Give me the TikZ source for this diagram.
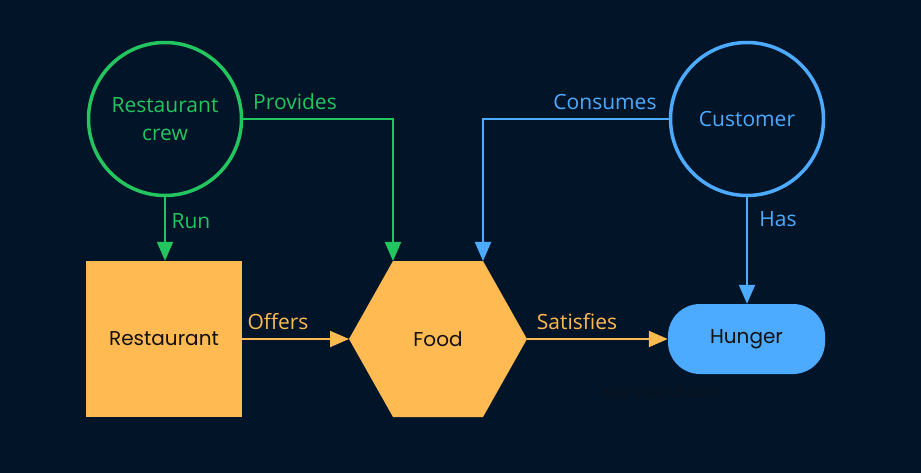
\documentclass[tikz,border=0pt]{standalone}
\usepackage{fontspec}
\setmainfont{Open Sans}
\newfontfamily\nodefont{Poppins}
\usetikzlibrary{arrows.meta,shapes.geometric}
\definecolor{bg}{RGB}{1,20,40}
\definecolor{crewgreen}{RGB}{34,197,94}
\definecolor{custblue}{RGB}{77,171,255}
\definecolor{foodorange}{RGB}{255,186,82}
\definecolor{inktext}{RGB}{17,17,17}
\definecolor{wmark}{RGB}{10,17,28}
\tikzset{
  x=1pt,y=-1pt,
  actor/.style={circle,draw=#1,line width=3.5pt,minimum size=153pt,inner sep=0pt,text=#1,font=\fontsize{21}{28}\selectfont,align=center},
  thing/.style={fill=foodorange,draw=none,text=inktext,font=\nodefont\fontsize{20}{24}\selectfont},
  conn/.style={draw=#1,line width=2pt,-{Triangle[length=19pt,width=16pt]}},
  lbl/.style={text=#1,font=\fontsize{21}{26}\selectfont,inner sep=0pt}
}
\begin{document}
\begin{tikzpicture}
\fill[bg] (0,0) rectangle (921,473);
\useasboundingbox (0,0) rectangle (921,473);
% nodes
\node[actor=crewgreen] (crew) at (165,119) {Restaurant\\crew};
\node[actor=custblue] (cust) at (747,119) {Customer};
\node[thing,minimum width=156pt,minimum height=156pt,inner sep=0pt] (rest) at (164,339) {Restaurant};
\coordinate (f1) at (349,339);
\coordinate (f2) at (393,261);
\coordinate (f3) at (483,261);
\coordinate (f4) at (527,339);
\coordinate (f5) at (483,417);
\coordinate (f6) at (393,417);
\fill[foodorange] (f1) -- (f2) -- (f3) -- (f4) -- (f5) -- (f6) -- cycle;
\node[text=inktext,font=\nodefont\fontsize{20}{24}\selectfont] (food) at (438,339) {Food};
\node[thing,fill=custblue,rounded corners=32pt,minimum width=157pt,minimum height=70pt,inner sep=0pt] (hunger) at (746.5,339) {Hunger};
\node[text=wmark,font=\nodefont\fontsize{14}{16}\selectfont] (wm) at (660,392) {Alex Ewerlof.com};
% connectors
\draw[conn=crewgreen] (crew.south) -- (crew.south |- rest.north);
\draw[conn=crewgreen] (crew.east) -| (f2);
\draw[conn=custblue] (cust.west) -| (f3);
\draw[conn=custblue] (cust.south) -- (cust.south |- hunger.north);
\draw[conn=foodorange] (rest.east) -- (f1);
\draw[conn=foodorange] (f4) -- (hunger.west);
% labels
\node[lbl=crewgreen] (lprov) at (295,102) {Provides};
\node[lbl=crewgreen] (lrun) at (191,221) {Run};
\node[lbl=custblue] (lcons) at (605,102) {Consumes};
\node[lbl=custblue] (lhas) at (778,219) {Has};
\node[lbl=foodorange] (loff) at (278,322) {Offers};
\node[lbl=foodorange] (lsat) at (577,322) {Satisfies};
\end{tikzpicture}
\end{document}
